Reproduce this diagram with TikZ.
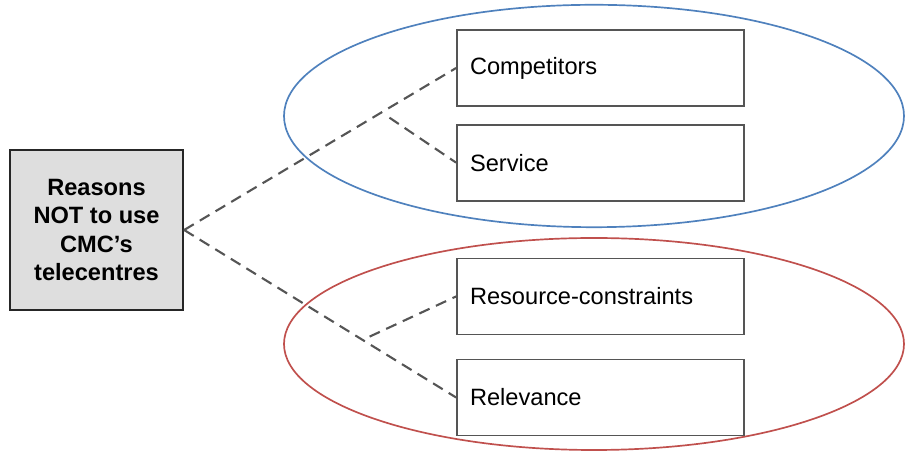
\documentclass[tikz,border=0pt]{standalone}
\usepackage{fontspec}
\setmainfont{Liberation Sans}
\usepackage{tikz}
\usetikzlibrary{positioning,calc}
\definecolor{grpblue}{RGB}{79,129,189}
\definecolor{grpred}{RGB}{192,80,77}
\definecolor{framegray}{RGB}{85,85,85}
\tikzset{
  mainbox/.style={draw=black!85, line width=1.6pt, fill=black!13, minimum width=4.325cm, minimum height=4cm, align=center, font=\fontsize{16.8}{20}\selectfont\bfseries},
  reason/.style={draw=framegray, line width=1.3pt, minimum height=1.9cm, text width=6.525cm, inner xsep=0.325cm, align=left, font=\fontsize{16.8}{20}\selectfont},
  conn/.style={dashed, dash pattern=on 8pt off 5pt, line width=1.5pt, color=framegray},
  group/.style={line width=1.2pt},
}

\begin{document}
\begin{tikzpicture}
  \useasboundingbox (0,0) rectangle (22.625,-11.3);
  % groups
  \draw[group, grpblue] (14.85,-2.9) ellipse (7.75cm and 2.78cm);
  \draw[group, grpred] (14.85,-8.6) ellipse (7.75cm and 2.65cm);

  % nodes
  \node[reason] (comp) at (15.0125,-1.7) {Competitors};
  \node[reason, below=0.42cm of comp] (serv) {Service};
  \node[reason, below=1.4cm of serv] (res) {Resource-constraints};
  \node[reason, below=0.58cm of res] (rel) {Relevance};
  \node[mainbox] (main) at (2.4125,-5.75) {Reasons\\NOT to use\\CMC’s\\telecentres};

  % connections
  \draw[conn] (main.east) -- coordinate[pos=0.755] (ctap) (comp.west);
  \draw[conn] ($(ctap)+(0,-0.25)$) -- (serv.west);
  \draw[conn] (main.east) -- coordinate[pos=0.682] (rtap) (rel.west);
  \draw[conn] ($(rtap)+(0,0.19)$) -- (res.west);
\end{tikzpicture}
\end{document}
